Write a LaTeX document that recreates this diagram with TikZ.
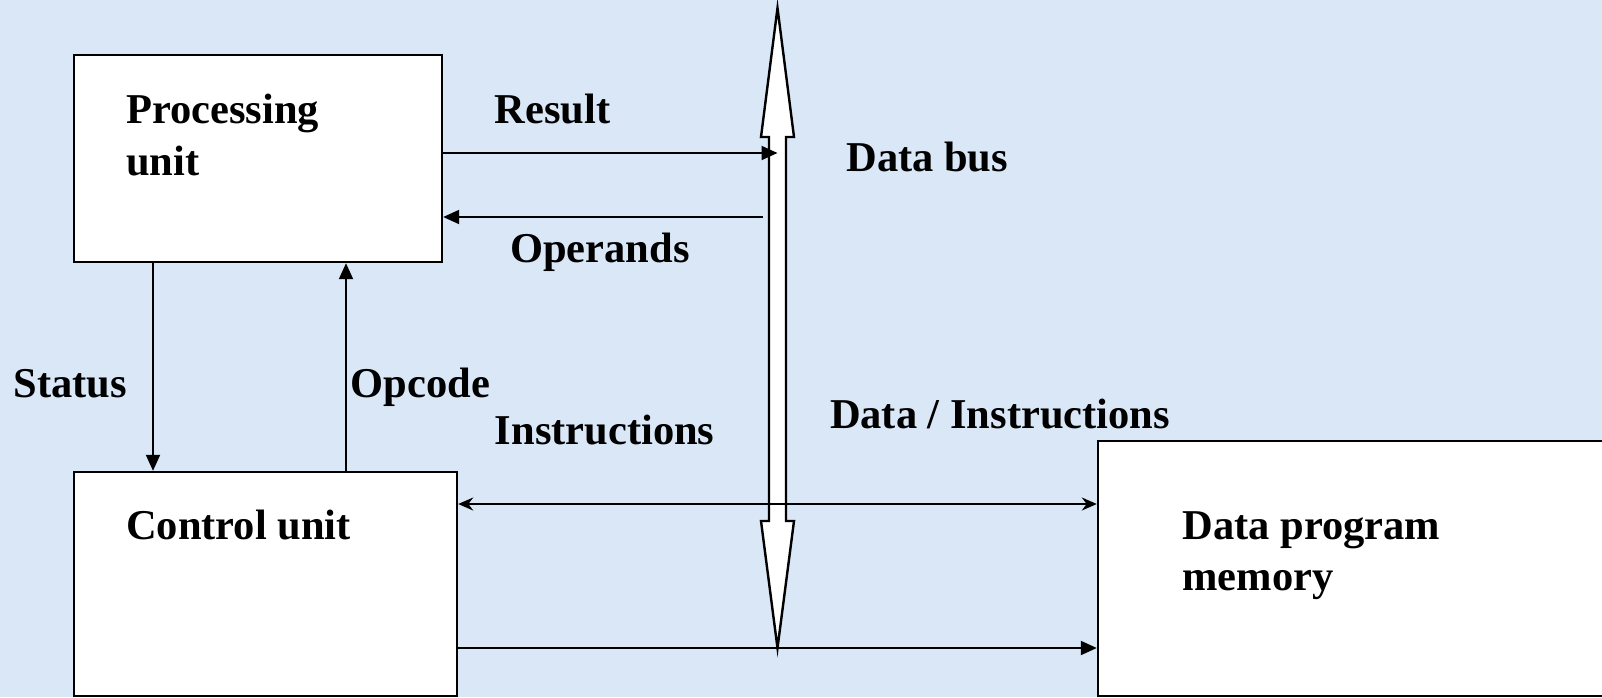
\documentclass[tikz,border=0pt]{standalone}
\usepackage{fontspec}
\setmainfont{Liberation Serif}
\usetikzlibrary{arrows.meta,fit}
\definecolor{bgblue}{RGB}{217,231,246}
\begin{document}
\begin{tikzpicture}[x=0.5pt,y=-0.5pt,
  box/.style={draw=black,line width=1.2pt,fill=white,inner sep=0pt},
  lbl/.style={anchor=base west,inner sep=0pt,font=\fontsize{21.25pt}{25.5pt}\selectfont\bfseries},
  conn/.style={line width=1pt,-{Triangle[length=8pt,width=7pt]}},
  dconn/.style={line width=1pt,{Stealth[length=7.5pt,width=6.5pt]}-{Stealth[length=7.5pt,width=6.5pt]}},
  bus/.style={draw=black,line width=1.2pt,fill=white,line join=miter}]
\useasboundingbox (0,0) rectangle (1602,697);
\clip (0,0) rectangle (1602,697);
\fill[bgblue] (0,0) rectangle (1602,697);
% boxes
\node[box,fit={(74,55)(442,262)}] (pu) {};
\node[box,fit={(74,472)(457,696)}] (cu) {};
\node[box,fit={(1098,441)(1640,696)}] (mem) {};
% data bus
\draw[bus] (777.5,8) -- (794,137) -- (786,137) -- (786,521) -- (794,521) -- (777.5,648)
  -- (761,521) -- (769,521) -- (769,137) -- (761,137) -- cycle;
\coordinate (busR) at (777.5,153);
\coordinate (busO) at (763,217);
\coordinate (sx) at (153,0);
\coordinate (ox) at (346,0);
\coordinate (iy) at (0,504);
\coordinate (ly) at (0,648);
% connectors
\draw[conn] (pu.east |- busR) -- (busR);
\draw[conn] (busO) -- (pu.east |- busO);
\draw[conn] (pu.south -| sx) -- (cu.north -| sx);
\draw[conn] (cu.north -| ox) -- (pu.south -| ox);
\draw[dconn] (cu.east |- iy) -- (mem.west |- iy);
\draw[conn] (cu.east |- ly) -- (mem.west |- ly);
% labels
\node[lbl] (tpu1) at (125.7,123) {Processing};
\node[lbl] (tpu2) at (125.7,175) {unit};
\node[lbl] (tres) at (494.5,123.6) {Result};
\node[lbl] (tbus) at (846,171.6) {Data bus};
\node[lbl] (tops) at (509.8,262.6) {Operands};
\node[lbl] (tsta) at (13.3,397.5) {Status};
\node[lbl] (topc) at (350.4,397.5) {Opcode};
\node[lbl] (tins) at (494.5,444.4) {Instructions};
\node[lbl] (tdi) at (829.6,428) {Data / Instructions};
\node[lbl] (tcu) at (125.7,539.5) {Control unit};
\node[lbl] (tm1) at (1182,539.5) {Data program};
\node[lbl] (tm2) at (1182,590.6) {memory};
\end{tikzpicture}
\end{document}
